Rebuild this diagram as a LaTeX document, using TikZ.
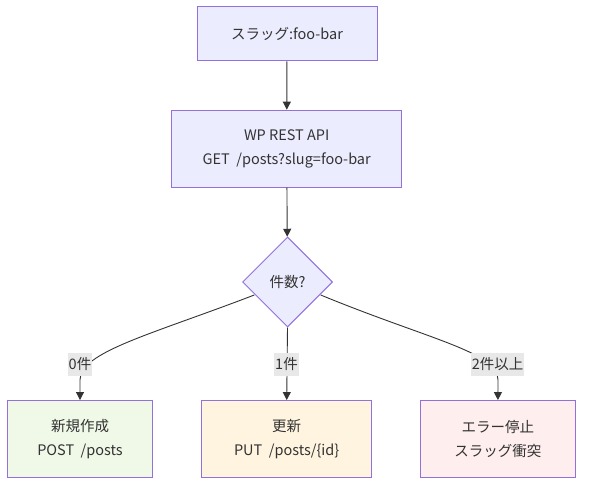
\documentclass[tikz,border=0pt]{standalone}
\usepackage{fontspec}
\setmainfont{Noto Sans CJK JP}
\usetikzlibrary{shapes.geometric,arrows.meta}
\definecolor{boxfill}{HTML}{ECECFF}
\definecolor{boxline}{HTML}{9370DB}
\definecolor{txt}{HTML}{333333}
\definecolor{edge}{HTML}{333333}
\definecolor{lblbg}{HTML}{E8E8E8}
\definecolor{gfill}{HTML}{F0F8E8}
\definecolor{ofill}{HTML}{FFF4E0}
\definecolor{pfill}{HTML}{FFEEEE}
\begin{document}
\begin{tikzpicture}[x=1pt,y=-1pt,
  every node/.style={text=txt,font=\fontsize{14.5}{24}\selectfont},
  proc/.style={draw=boxline,line width=1pt,fill=boxfill,inner sep=0pt,align=center},
  decision/.style={draw=boxline,line width=1pt,fill=boxfill,shape=diamond,inner sep=0pt,minimum width=90pt,minimum height=90pt},
  elabel/.style={fill=lblbg,inner xsep=1pt,inner ysep=0pt,minimum height=23pt},
  flow/.style={draw=edge,line width=0.9pt,-{Triangle[length=8pt,width=8pt]}}
]
\useasboundingbox (0,0) rectangle (591,492);
\node[proc,minimum width=180pt,minimum height=54pt] (slug) at (287,34) {スラッグ:foo-bar};
\node[proc,minimum width=230pt,minimum height=77pt] (api) at (286.7,148.7) {WP REST API\\GET\ \ /posts?slug=foo-bar};
\node[decision] (cnt) at (287.5,282) {件数?};
\node[proc,fill=gfill,minimum width=145pt,minimum height=76.5pt] (create) at (80,438.8) {新規作成\\POST\ \ /posts};
\node[proc,fill=ofill,minimum width=170pt,minimum height=76.5pt] (update) at (286.7,438.8) {更新\\PUT\ \ /posts/\{id\}};
\node[proc,fill=pfill,minimum width=154.3pt,minimum height=76.5pt] (err) at (497.9,438.8) {エラー停止\\スラッグ衝突};

\coordinate (lstart) at (254.3,295);
\coordinate (rstart) at (320.7,295);

\draw[flow] (slug) -- (api);
\draw[flow] (api) -- (cnt);
\draw[flow] (lstart) .. controls (150,335) and (80,352) .. (80,380) -- (create.north);
\draw[flow] (cnt.south) -- (update.north);
\draw[flow] (rstart) .. controls (430,340) and (498,352) .. (498,380) -- (err.north);

\node[elabel] (l0) at (80,364) {0件};
\node[elabel] (l1) at (286.5,364) {1件};
\node[elabel] (l2) at (497.7,364) {2件以上};
\end{tikzpicture}
\end{document}
